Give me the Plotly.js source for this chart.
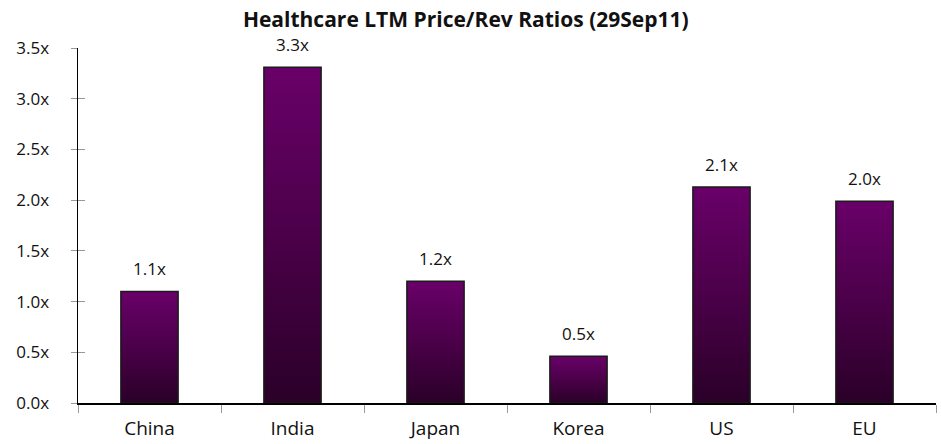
<!DOCTYPE html>
<html>
<head>
<meta charset="utf-8">
<script src="https://cdn.plot.ly/plotly-3.0.1.min.js"></script>
<style>html,body{margin:0;padding:0;background:#fff;}</style>
</head>
<body>
<div id="chart" style="width:941px;height:444px;"></div>
<script>
var categories = ["China", "India", "Japan", "Korea", "US", "EU"];
var ratios = [1.1, 3.31, 1.2, 0.46, 2.13, 1.99];
var chartTitle = "Healthcare LTM Price/Rev Ratios (29Sep11)";
var yTickVals = [0, 0.5, 1.0, 1.5, 2.0, 2.5, 3.0, 3.5];

var fontFam = "'Open Sans', 'DejaVu Sans', sans-serif";

var trace = {
  type: "bar",
  x: categories,
  y: ratios,
  marker: {color: "#4a004a", line: {color: "#1a1a1a", width: 1.5}},
  hoverinfo: "none"
};

var annotations = categories.map(function (c, i) {
  return {
    x: c, y: ratios[i], xref: "x", yref: "y",
    text: ratios[i].toFixed(1) + "x",
    showarrow: false, yanchor: "bottom", yshift: 9,
    font: {family: fontFam, size: 17, color: "#111"}
  };
});

var tickText = yTickVals.map(function (v) { return v.toFixed(1) + "x"; });

var layout = {
  width: 941, height: 444,
  margin: {l: 78, r: 5, t: 48, b: 41},
  paper_bgcolor: "#fff", plot_bgcolor: "#fff",
  showlegend: false,
  bargap: 0.6,
  title: {text: "<b>" + chartTitle + "</b>", x: 0.495, xanchor: "center", y: 0.955, yanchor: "middle",
          font: {family: fontFam, size: 21, color: "#111"}},
  xaxis: {
    showline: true, linecolor: "#000", linewidth: 1.5,
    tickson: "boundaries", ticks: "outside", ticklen: 8, tickcolor: "#999", tickwidth: 1,
    showgrid: false, zeroline: false,
    tickfont: {family: fontFam, size: 19, color: "#111"},
    ticklabelstandoff: 8
  },
  yaxis: {
    range: [0, 3.5], tickvals: yTickVals, ticktext: tickText,
    showline: true, linecolor: "#000", linewidth: 1.5,
    ticks: "outside", ticklen: 6, tickcolor: "#999", tickwidth: 1,
    showgrid: false, zeroline: false,
    tickfont: {family: fontFam, size: 17, color: "#111"},
    ticklabelstandoff: 18
  },
  yaxis2: {
    range: [0, 3.5], tickvals: yTickVals, overlaying: "y", side: "left", anchor: "x",
    showticklabels: false, showline: false, showgrid: false, zeroline: false,
    ticks: "inside", ticklen: 7, tickcolor: "#999", tickwidth: 1
  },
  annotations: annotations
};

var ghost = {type: "scatter", x: [categories[0]], y: [0], yaxis: "y2", mode: "markers",
             marker: {opacity: 0}, hoverinfo: "none"};

Plotly.newPlot("chart", [trace, ghost], layout, {displayModeBar: false, staticPlot: true}).then(function (gd) {
  var svg = gd.querySelector("svg.main-svg");
  var ns = "http://www.w3.org/2000/svg";
  var defs = svg.querySelector("defs") || svg.insertBefore(document.createElementNS(ns, "defs"), svg.firstChild);
  var grad = document.createElementNS(ns, "linearGradient");
  grad.setAttribute("id", "barGrad");
  grad.setAttribute("x1", "0"); grad.setAttribute("y1", "0");
  grad.setAttribute("x2", "0"); grad.setAttribute("y2", "1");
  [["0", "#690069"], ["0.45", "#4e004c"], ["1", "#2a0028"]].forEach(function (s) {
    var st = document.createElementNS(ns, "stop");
    st.setAttribute("offset", s[0]);
    st.setAttribute("stop-color", s[1]);
    grad.appendChild(st);
  });
  defs.appendChild(grad);
  gd.querySelectorAll(".barlayer .point path").forEach(function (p) {
    p.style.fill = "url(#barGrad)";
  });
});
</script>
</body>
</html>
